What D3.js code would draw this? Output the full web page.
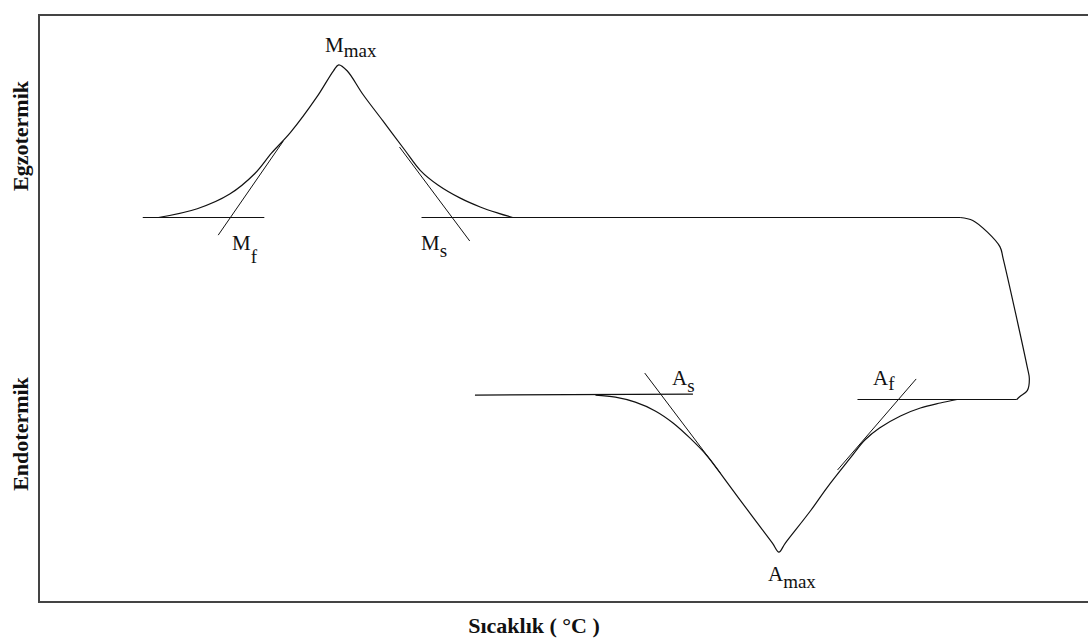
<!DOCTYPE html>
<html>
<head>
<meta charset="utf-8">
<script src="https://cdn.jsdelivr.net/npm/d3@7"></script>
<style>
  body { margin: 0; background: #fff; }
  svg { display: block; }
  text { font-family: "Liberation Serif", "Times New Roman", serif; fill: #111; }
</style>
</head>
<body>
<svg width="1088" height="644"></svg>
<script>
// DSC trace, temperature (arb. units 0-100) vs heat flow (arb. units -10..10)
// cooling: exothermic martensite peak
var coolingPeak = [
  [11.4, 3.1], [15.1, 3.4], [18.2, 3.9], [20.6, 4.6], [22.2, 5.3],
  [24.0, 6.0], [26.5, 7.2], [28.1, 8.1], [28.6, 8.3], [29.4, 8.1],
  [30.9, 7.3], [32.8, 6.4], [34.9, 5.4], [36.4, 4.7], [38.1, 4.2],
  [40.2, 3.76], [42.1, 3.46], [43.8, 3.25], [45.2, 3.1]
];

// turn-around at the right end of the run
var corner = [
  [87.9, 3.1], [89.1, 3.0], [90.5, 2.6], [91.7, 2.1],
  [92.0, 1.7], [94.3, -2.0], [94.5, -2.4], [94.3, -2.8], [93.6, -3.0],
  [93.3, -3.1]
];

// heating: endothermic austenite trough
var heatingTrough = [
  [87.6, -3.1], [86.0, -3.22], [84.1, -3.39], [82.2, -3.66],
  [80.2, -4.07], [78.8, -4.48], [77.4, -5.1], [75.2, -6.1], [73.6, -6.9],
  [71.2, -8.0], [70.6, -8.3], [70.0, -8.0], [68.1, -7.1], [65.6, -5.9],
  [63.7, -5.0], [62.1, -4.41], [60.5, -3.9], [58.8, -3.49], [56.9, -3.19],
  [55.0, -3.02], [53.1, -2.95]
];

// straight baselines (incl. the flat runs of the trace)
var baselines = [
  [[9.9, 3.1], [21.5, 3.1]],
  [[36.5, 3.1], [87.9, 3.1]],
  [[41.6, -2.95], [62.4, -2.92]],
  [[78.1, -3.1], [93.3, -3.1]]
];

// tangents at the inflection points
var tangents = [
  [[17.1, 2.5], [23.3, 5.7]],
  [[34.4, 5.5], [41.1, 2.3]],
  [[57.8, -2.2], [65.0, -5.6]],
  [[83.7, -2.4], [76.2, -5.5]]
];

var labelMain = ["M", "M", "M", "A", "A", "A"];
var labelSub = ["max", "f", "s", "s", "f", "max"];
var labelAt = [[27.29, 8.74], [18.42, 1.99], [36.45, 1.99], [60.40, -2.61], [79.58, -2.61], [69.56, -9.28]];
var subShift = [5, 13, 7, 7, 5, 7];

var svg = d3.select("svg");

var x = d3.scaleLinear().domain([0, 100]).range([39, 1087]),
    y = d3.scaleLinear().domain([-10, 10]).range([602, 15]);

// frame (right edge runs off the picture)
svg.append("rect")
    .attr("x", x(0))
    .attr("y", y(10))
    .attr("width", x(100) - x(0) + 20)
    .attr("height", y(-10) - y(10))
    .attr("fill", "none")
    .attr("stroke", "#444")
    .attr("stroke-width", 2);

var line = d3.line()
    .x(function(d) { return x(d[0]); })
    .y(function(d) { return y(d[1]); });

var curve = d3.line()
    .x(function(d) { return x(d[0]); })
    .y(function(d) { return y(d[1]); })
    .curve(d3.curveCatmullRom.alpha(0.5));

svg.selectAll(".trace").data([coolingPeak, corner, heatingTrough])
  .enter().append("path")
    .attr("class", "trace")
    .attr("d", curve)
    .attr("fill", "none")
    .attr("stroke", "#111")
    .attr("stroke-width", 1.2);

svg.selectAll(".baseline").data(baselines)
  .enter().append("path")
    .attr("class", "baseline")
    .attr("d", line)
    .attr("fill", "none")
    .attr("stroke", "#111")
    .attr("stroke-width", 1.2);

svg.selectAll(".tangent").data(tangents)
  .enter().append("path")
    .attr("class", "tangent")
    .attr("d", line)
    .attr("fill", "none")
    .attr("stroke", "#111")
    .attr("stroke-width", 1);

// point labels with subscripts
var labels = svg.selectAll(".plabel").data(labelMain)
  .enter().append("text")
    .attr("class", "plabel")
    .attr("x", function(d, i) { return x(labelAt[i][0]); })
    .attr("y", function(d, i) { return y(labelAt[i][1]); })
    .style("font-size", "21px");

labels.append("tspan").text(function(d) { return d; });
labels.append("tspan")
    .attr("dy", function(d, i) { return subShift[i]; })
    .style("font-size", "19px")
    .text(function(d, i) { return labelSub[i]; });

// axis titles
svg.append("text")
    .attr("transform", "translate(28,136) rotate(-90)")
    .attr("text-anchor", "middle")
    .style("font-size", "22px")
    .style("font-weight", "bold")
    .text("Egzotermik");

svg.append("text")
    .attr("transform", "translate(28,434) rotate(-90)")
    .attr("text-anchor", "middle")
    .style("font-size", "22px")
    .style("font-weight", "bold")
    .text("Endotermik");

svg.append("text")
    .attr("x", 534)
    .attr("y", 633)
    .attr("text-anchor", "middle")
    .style("font-size", "22px")
    .style("font-weight", "bold")
    .text("Sıcaklık ( °C )");
</script>
</body>
</html>
